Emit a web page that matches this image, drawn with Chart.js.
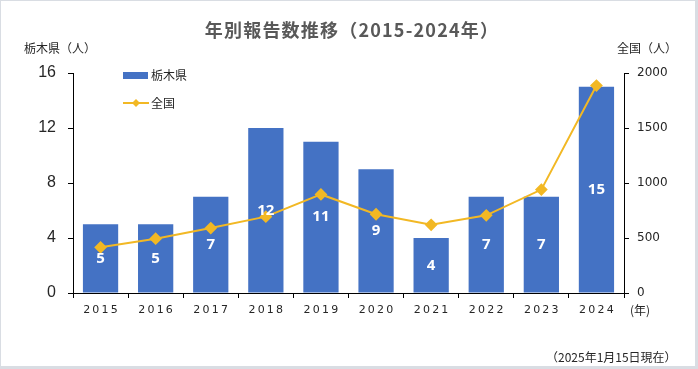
<!DOCTYPE html>
<html>
<head>
<meta charset="utf-8">
<script src="https://cdn.jsdelivr.net/npm/chart.js@4/dist/chart.umd.min.js"></script>
<style>
  html, body { margin: 0; padding: 0; background: #fff; }
  #wrap { position: relative; width: 698px; height: 369px; box-sizing: border-box; border: 1px solid #d9dde3; border-right-width: 3px; border-bottom-width: 3px; }
  canvas { display: block; }
</style>
</head>
<body>
<div id="wrap"><canvas id="myChart" width="694" height="365"></canvas></div>
<script>
const years = ["2015", "2016", "2017", "2018", "2019", "2020", "2021", "2022", "2023", "2024"];
const tochigiCounts = [5, 5, 7, 12, 11, 9, 4, 7, 7, 15];
const nationalCounts = [415, 494, 590, 694, 896, 716, 620, 706, 940, 1886];
const leftTicks = [0, 4, 8, 12, 16];
const rightTicks = [0, 500, 1000, 1500, 2000];

const cjk = '"Noto Sans CJK JP", sans-serif';

// 見出し・軸タイトル・凡例
const decorPlugin = {
  id: "decor",
  afterDraw(chart) {
    const ctx = chart.ctx;
    const xs = chart.scales.x;
    ctx.save();
    ctx.fillStyle = "#595959";
    ctx.font = "bold 18px " + cjk;
    ctx.letterSpacing = "1.2px";
    ctx.textAlign = "center";
    ctx.textBaseline = "middle";
    ctx.fillText("年別報告数推移（2015-2024年）", 351, 29);
    ctx.letterSpacing = "0px";

    ctx.fillStyle = "#262626";
    ctx.font = "12px " + cjk;
    ctx.textAlign = "left";
    ctx.fillText("栃木県（人）", 23, 47);
    ctx.fillText("全国（人）", 616, 47);
    ctx.fillText("(年)", 629, 309);
    ctx.fillText("（2025年1月15日現在）", 545, 356);

    // x軸ラベル（字間あり）
    ctx.font = "11px 'DejaVu Sans'";
    ctx.letterSpacing = "2.2px";
    ctx.textAlign = "center";
    years.forEach(function(y, i) {
      ctx.fillText(y, xs.getPixelForValue(i) + 1, 309);
    });
    ctx.letterSpacing = "0px";

    // 凡例
    ctx.fillStyle = "#4472C4";
    ctx.fillRect(122, 71, 25, 7);
    ctx.strokeStyle = "#F2B824";
    ctx.lineWidth = 2;
    ctx.beginPath();
    ctx.moveTo(122, 102);
    ctx.lineTo(148, 102);
    ctx.stroke();
    ctx.fillStyle = "#F2B824";
    ctx.beginPath();
    ctx.moveTo(135, 98);
    ctx.lineTo(139, 102);
    ctx.lineTo(135, 106);
    ctx.lineTo(131, 102);
    ctx.closePath();
    ctx.fill();
    ctx.fillStyle = "#262626";
    ctx.font = "12px " + cjk;
    ctx.textAlign = "left";
    ctx.fillText("栃木県", 150, 74);
    ctx.fillText("全国", 150, 102);
    ctx.restore();
  }
};

// 棒の中の数値
const barLabelPlugin = {
  id: "barLabels",
  afterDatasetsDraw(chart) {
    const ctx = chart.ctx;
    const meta = chart.getDatasetMeta(1);
    ctx.save();
    ctx.fillStyle = "#ffffff";
    ctx.font = "bold 15px 'Open Sans'";
    ctx.textAlign = "center";
    ctx.textBaseline = "middle";
    meta.data.forEach(function(bar, i) {
      const mid = (bar.y + bar.base) / 2;
      ctx.fillText(String(tochigiCounts[i]), bar.x, mid);
    });
    ctx.restore();
  }
};

const ctx = document.getElementById("myChart");

new Chart(ctx, {
  data: {
    labels: years,
    datasets: [
      {
        type: "line",
        label: "全国",
        data: nationalCounts,
        yAxisID: "y1",
        borderColor: "#F2B824",
        backgroundColor: "#F2B824",
        borderWidth: 2,
        pointStyle: "rectRot",
        pointRadius: 5,
        pointHoverRadius: 5,
        tension: 0,
        order: 0
      },
      {
        type: "bar",
        label: "栃木県",
        data: tochigiCounts,
        yAxisID: "y",
        backgroundColor: "#4472C4",
        barPercentage: 0.64,
        categoryPercentage: 1,
        order: 1
      }
    ]
  },
  options: {
    responsive: false,
    animation: false,
    layout: { padding: { top: 72, left: 0, right: 0, bottom: 0 } },
    plugins: {
      legend: { display: false },
      title: { display: false },
      tooltip: { enabled: false }
    },
    scales: {
      x: {
        offset: true,
        grid: { offset: true, drawOnChartArea: false, color: "#000", tickLength: 5, tickWidth: 1 },
        border: { color: "#000", width: 1 },
        ticks: { display: false },
        afterFit: function(scale) { scale.height = 73; }
      },
      y: {
        position: "left",
        min: 0,
        max: 16,
        afterBuildTicks: function(scale) { scale.ticks = leftTicks.map(v => ({ value: v })); },
        grid: { drawOnChartArea: false, color: "#000", tickLength: 5 },
        border: { color: "#000", width: 1 },
        ticks: { color: "#262626", font: { family: "'Liberation Sans'", size: 16 }, padding: 12 },
        afterFit: function(scale) { scale.width = 72; }
      },
      y1: {
        position: "right",
        min: 0,
        max: 2000,
        afterBuildTicks: function(scale) { scale.ticks = rightTicks.map(v => ({ value: v })); },
        grid: { drawOnChartArea: false, color: "#000", tickLength: 5 },
        border: { color: "#000", width: 1 },
        ticks: {
          color: "#262626",
          font: { family: "'DejaVu Sans'", size: 12 },
          padding: 8,
          callback: function(value) { return String(value); }
        },
        afterFit: function(scale) { scale.width = 71; }
      }
    }
  },
  plugins: [barLabelPlugin, decorPlugin]
});
</script>
</body>
</html>
